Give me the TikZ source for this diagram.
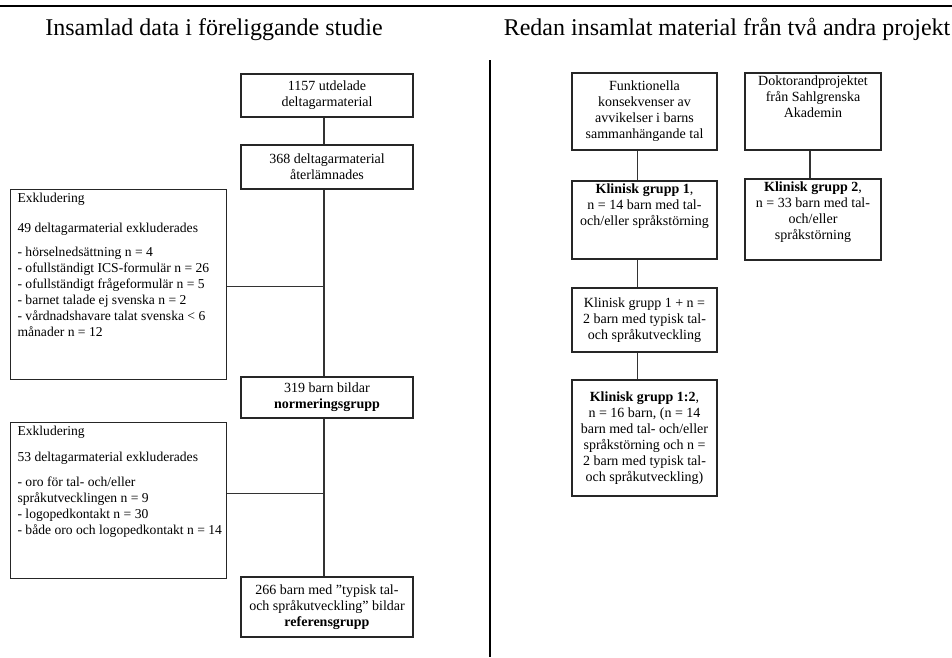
\documentclass[tikz,border=0pt]{standalone}
\usepackage{fontspec}
\setmainfont{Liberation Serif}
\usetikzlibrary{positioning}

\tikzset{
  box/.style={draw=black!85, line width=1.1pt, fill=white, align=center, inner sep=3pt,
    font=\fontsize{14}{16}\selectfont},
  exbox/.style={draw=black!85, line width=1.1pt, fill=white, anchor=north west,
    inner xsep=7pt, inner ysep=4pt, font=\fontsize{13.6}{16}\selectfont},
  link/.style={draw=black!80, line width=1.4pt},
  rule/.style={draw=black, line width=2.5pt},
  head/.style={anchor=base, font=\fontsize{24}{28}\selectfont}
}
\newcommand{\toptext}[3]{\parbox[c][#1][t]{#2}{#3}}

\begin{document}
\begin{tikzpicture}[x=1pt, y=-1pt]
  \useasboundingbox (0,0) rectangle (952,657);
  \draw[rule] (0,6) -- (952,6);
  \draw[rule] (490,60) -- (490,657);
  \node[head] (lefthead) at (214,35) {Insamlad data i föreliggande studie};
  \node[head] (righthead) at (727,35) {Redan insamlat material från två andra projekt};

  \node[box, minimum width=172pt, minimum height=43pt] (utdelade) at (327,95.5)
    {1157 utdelade\\deltagarmaterial};
  \node[box, minimum width=172pt, minimum height=44pt] (aterl) at (327,167)
    {368 deltagarmaterial\\återlämnades};
  \node[box, minimum width=172pt, minimum height=41pt] (norm) at (327,397.5)
    {319 barn bildar\\\textbf{normeringsgrupp}};
  \node[box, minimum width=172pt, minimum height=60pt] (ref) at (327,607)
    {266 barn med "typisk tal-\\och språkutveckling" bildar\\\textbf{referensgrupp}};

  \node[exbox] (exkl1) at (10,189) {\toptext{182pt}{202pt}{\raggedright
    Exkludering\\[14pt]
    49 deltagarmaterial exkluderades\\[8pt]
    - hörselnedsättning n = 4\\
    - ofullständigt ICS-formulär n = 26\\
    - ofullständigt frågeformulär n = 5\\
    - barnet talade ej svenska n = 2\\
    - vårdnadshavare talat svenska < 6\\
    månader n = 12}};
  \node[exbox] (exkl2) at (10,422) {\toptext{148pt}{202pt}{\raggedright
    Exkludering\\[10pt]
    53 deltagarmaterial exkluderades\\[9pt]
    - oro för tal- och/eller\\
    språkutvecklingen n = 9\\
    - logopedkontakt n = 30\\
    \mbox{- både oro och logopedkontakt n = 14}}};

  \coordinate (spine) at ([xshift=-3pt]aterl.south);
  \draw[link] ([xshift=-3pt]utdelade.south) -- ([xshift=-3pt]aterl.north);
  \draw[link] ([xshift=-3pt]aterl.south) -- ([xshift=-3pt]norm.north);
  \draw[link] ([xshift=-3pt]norm.south) -- ([xshift=-3pt]ref.north);
  \draw[link] ([yshift=-2pt]exkl1.east) -- ([yshift=-2pt]exkl1.east -| spine);
  \draw[link] ([yshift=7pt]exkl2.east) -- ([yshift=7pt]exkl2.east -| spine);

  \node[box, minimum width=145pt, minimum height=77pt] (funk) at (644.5,111.5)
    {Funktionella\\konsekvenser av\\avvikelser i barns\\sammanhängande tal};
  \node[box] (grupp1) at (644.5,220) {\toptext{72pt}{139pt}{\centering
    \textbf{Klinisk grupp 1},\\n = 14 barn med tal-\\och/eller språkstörning}};
  \node[box, minimum width=145pt, minimum height=64pt] (grupp1typ) at (644.5,320)
    {Klinisk grupp 1 + n =\\2 barn med typisk tal-\\och språkutveckling};
  \node[box, minimum width=145pt, minimum height=116pt] (grupp12) at (644.5,438)
    {\textbf{Klinisk grupp 1:2},\\n = 16 barn, (n = 14\\barn med tal- och/eller\\språkstörning och n =\\2 barn med typisk tal-\\och språkutveckling)};
  \node[box] (doktor) at (813,111.5) {\toptext{71pt}{130pt}{\centering
    Doktorandprojektet\\från Sahlgrenska\\Akademin}};
  \node[box] (grupp2) at (813,219.5) {\toptext{75pt}{130pt}{\centering
    \textbf{Klinisk grupp 2},\\n = 33 barn med tal-\\och/eller\\språkstörning}};

  \draw[link] ([xshift=-7pt]funk.south) -- ([xshift=-7pt]grupp1.north);
  \draw[link] ([xshift=-7pt]grupp1.south) -- ([xshift=-7pt]grupp1typ.north);
  \draw[link] ([xshift=-7pt]grupp1typ.south) -- ([xshift=-7pt]grupp12.north);
  \draw[link] ([xshift=-3pt]doktor.south) -- ([xshift=-3pt]grupp2.north);
\end{tikzpicture}
\end{document}
